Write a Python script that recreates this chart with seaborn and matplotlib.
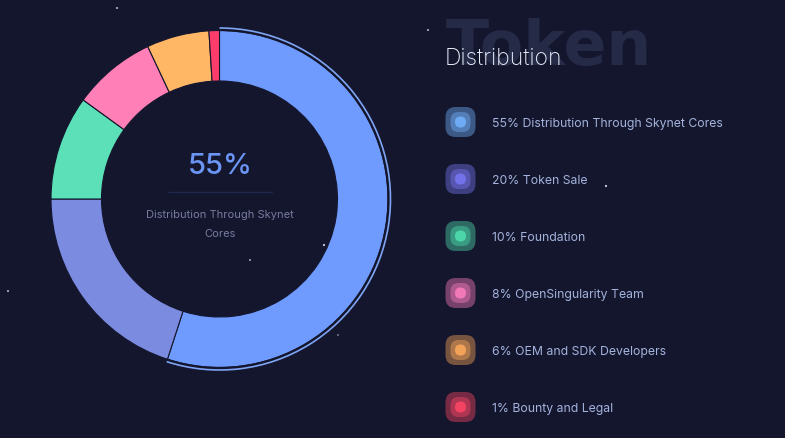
import matplotlib
matplotlib.use("Agg")
import matplotlib.pyplot as plt
from matplotlib.patches import Arc, FancyBboxPatch
import seaborn as sns

# Token distribution data
shares = [55, 20, 10, 8, 6, 1]
names = ["Distribution Through Skynet Cores", "Token Sale", "Foundation",
         "OpenSingularity Team", "OEM and SDK Developers", "Bounty and Legal"]
slice_colors = ["#6f9bff", "#7b8be0", "#5ce0b8", "#ff7fb6", "#ffb765", "#ff3d6c"]
icon_colors = ["#74b4ff", "#7a78f5", "#4fe0b0", "#ff7fc0", "#ffaa5c", "#ff4766"]
star_x = [117, 428, 606, 324, 250, 8, 338]
star_y = [8, 30, 186, 245, 260, 291, 335]
star_alpha = [0.7, 0.7, 0.9, 0.9, 0.6, 0.7, 0.4]

bg = "#14162d"
H = 438

sns.set_theme(style="dark", rc={"figure.facecolor": bg, "axes.facecolor": bg})
plt.rcParams["font.family"] = ["Inter", "DejaVu Sans"]

fig = plt.figure(figsize=(7.85, 4.38), dpi=100)
ax = fig.add_axes([0, 0, 1, 1])

# Donut
palette = sns.color_palette(slice_colors)
ax.pie(shares, colors=palette, startangle=90, counterclock=False,
       center=(219.5, H - 199), radius=168.5, frame=True,
       wedgeprops={"width": 50.5, "edgecolor": bg, "linewidth": 0.8})
# dark gap, then the thin outline round the big slice
ax.add_patch(Arc((219.5, H - 199), 338, 338, theta1=-108, theta2=90, color=bg, lw=1.6))
ax.add_patch(Arc((219.5, H - 199), 342, 342, theta1=-108, theta2=90,
                 color="#7fa5f5", lw=1.2))

ax.set_xlim(0, 785)
ax.set_ylim(0, H)
ax.set_aspect("auto")
ax.axis("off")

# Centre label
ax.text(220, H - 166, "55%", color="#6a95f5", fontsize=21, fontweight="medium",
        ha="center", va="center")
ax.plot([168, 272], [H - 192, H - 192], color="#20264d", lw=1)
ax.text(220, H - 215, "Distribution Through Skynet", color="#767c9e", fontsize=8,
        ha="center", va="center")
ax.text(220, H - 234, "Cores", color="#767c9e", fontsize=8, ha="center", va="center")

# Heading
ax.text(446, H - 65, "Token", color="#252a47", fontsize=45.5, fontweight="bold",
        family="DejaVu Sans", ha="left", va="baseline")
ax.text(445, H - 59, "Distribution", color="#e6ecf8", fontsize=16.5, fontweight="light",
        ha="left", va="center")

# Legend rows with the layered icons
for i, (share, name) in enumerate(zip(shares, names)):
    y = H - (122 + 57 * i)
    c = icon_colors[i]
    for size, pad, a in [(14, 8, 0.42), (8, 6, 0.42), (4, 3.5, 0.85)]:
        ax.add_patch(FancyBboxPatch((460.5 - size / 2, y - size / 2), size, size,
                                    boxstyle=f"round,pad={pad},rounding_size={pad + 2}",
                                    fc=c, ec="none", alpha=a))
    ax.text(492, y - 2, f"{share}% {name}", color="#a3b3dc", fontsize=8.8,
            ha="left", va="center")

# Background specks
ax.scatter(star_x, [H - s for s in star_y], s=2.5, color="#dfe6f5", linewidths=0,
           alpha=star_alpha)

fig.savefig("out.png", dpi=100, facecolor=bg)
